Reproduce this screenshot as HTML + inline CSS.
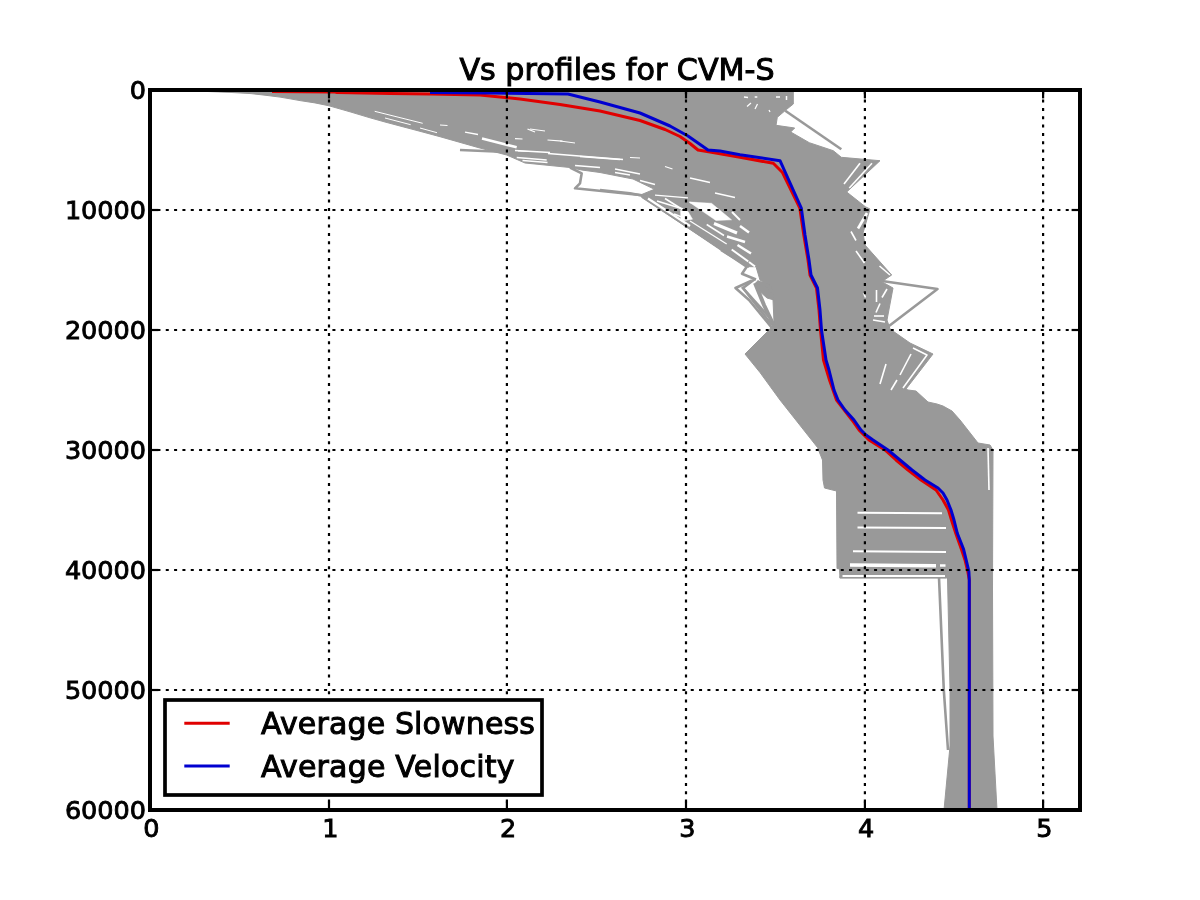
<!DOCTYPE html>
<html><head><meta charset="utf-8"><title>Vs profiles for CVM-S</title>
<style>html,body{margin:0;padding:0;background:#fff;overflow:hidden;}svg{display:block;will-change:transform;}</style>
</head><body>
<svg width="1200" height="900" viewBox="0 0 1200 900">
<rect x="0" y="0" width="1200" height="900" fill="#ffffff"/>
<defs><clipPath id="ax"><rect x="150" y="90" width="930" height="720"/></clipPath></defs>
<g clip-path="url(#ax)">
<polygon points="200.0,91.0 793.3,91.0 793.3,104.0 786.7,109.3 777.3,117.3 776.0,125.3 794.7,128.0 790.7,132.0 809.3,142.7 833.3,150.7 841.3,157.3 880.0,160.7 846.7,192.0 865.3,206.7 870.0,209.0 863.0,233.0 865.0,245.0 891.7,275.0 881.7,281.7 893.0,288.0 887.0,320.0 890.0,329.0 910.0,343.0 933.0,354.0 906.0,389.0 908.0,390.0 916.0,391.0 928.0,402.0 937.0,404.0 943.0,406.0 952.0,411.0 960.0,420.0 978.0,443.0 990.0,445.0 993.0,450.0 992.5,590.0 993.0,736.0 997.0,810.0 944.0,810.0 950.0,746.0 950.0,690.0 947.5,578.0 946.0,578.0 840.0,578.0 839.5,569.0 837.0,568.5 836.5,491.0 824.5,488.0 823.0,480.0 822.5,460.0 817.5,447.5 780.0,400.0 760.0,372.5 745.0,354.0 770.0,329.0 774.0,322.0 773.0,300.0 772.0,290.0 768.0,286.0 760.0,280.0 756.0,266.7 751.0,255.0 746.7,237.5 741.0,222.0 731.5,211.8 725.7,207.0 686.0,199.0 655.0,189.5 633.0,179.0 600.0,172.5 581.7,170.0 570.0,167.5 550.0,165.5 525.0,163.0 506.7,155.0 478.0,147.5 440.0,136.7 420.0,131.3 400.0,126.0 385.0,122.0 370.0,117.8 350.0,111.8 329.0,105.8 315.0,102.9 300.0,100.6 290.0,98.8 280.0,97.1 265.0,95.2 251.0,93.6 230.0,92.4 200.0,91.2" fill="#999999" stroke="#999999" stroke-width="1" stroke-linejoin="round"/>
<polygon points="641.7,194.5 655.0,189.0 686.0,199.0 725.7,207.0 731.5,211.8 741.0,222.0 746.7,237.5 751.0,255.0 756.0,266.7 746.7,266.7 641.7,197.5" fill="#999999" stroke="#999999" stroke-width="1" stroke-linejoin="round"/>
<polygon points="756.0,282.0 771.0,284.5 774.0,300.0 767.0,298.0 758.0,290.0" fill="#999999" stroke="#999999" stroke-width="1" stroke-linejoin="round"/>
<polyline points="755.0,283.0 764.0,305.0 773.5,325.0" fill="none" stroke="#999999" stroke-width="4.0" stroke-linejoin="round" stroke-linecap="butt" />
<polyline points="757.0,281.5 768.0,286.0 772.0,292.0" fill="none" stroke="#999999" stroke-width="3.5" stroke-linejoin="round" stroke-linecap="butt" />
<polyline points="742.0,287.0 768.5,316.4" fill="none" stroke="#999999" stroke-width="2.6" stroke-linejoin="round" stroke-linecap="butt" />
<polyline points="460.0,150.0 506.7,152.0" fill="none" stroke="#999999" stroke-width="2.4" stroke-linejoin="round" stroke-linecap="butt" />
<polyline points="785.3,110.7 841.3,149.3" fill="none" stroke="#999999" stroke-width="2.6" stroke-linejoin="round" stroke-linecap="butt" />
<polyline points="882.0,281.0 937.5,289.0 888.0,326.7" fill="none" stroke="#999999" stroke-width="2.6" stroke-linejoin="round" stroke-linecap="butt" />
<polyline points="570.0,167.5 581.7,173.3 580.0,183.3 575.0,188.3 640.0,195.0 653.0,196.7" fill="none" stroke="#999999" stroke-width="2.6" stroke-linejoin="round" stroke-linecap="butt" />
<polyline points="600.0,190.0 630.0,193.2 641.7,195.5 746.7,266.7 742.0,273.7 756.0,279.5" fill="none" stroke="#999999" stroke-width="2.6" stroke-linejoin="round" stroke-linecap="butt" />
<polyline points="752.0,280.5 735.5,288.0 749.0,300.0 772.0,328.0" fill="none" stroke="#999999" stroke-width="2.6" stroke-linejoin="round" stroke-linecap="butt" />
<polyline points="755.0,279.0 743.0,288.0 772.0,325.0" fill="none" stroke="#999999" stroke-width="2.6" stroke-linejoin="round" stroke-linecap="butt" />
<polyline points="721.0,250.0 749.0,267.0" fill="none" stroke="#999999" stroke-width="2.6" stroke-linejoin="round" stroke-linecap="butt" />
<polyline points="939.0,577.5 943.8,690.0 948.0,750.0" fill="none" stroke="#999999" stroke-width="2.6" stroke-linejoin="round" stroke-linecap="butt" />
<polyline points="839.5,577.0 946.0,577.0" fill="none" stroke="#999999" stroke-width="2.6" stroke-linejoin="round" stroke-linecap="butt" />
<polygon points="689.0,202.0 711.5,203.3 731.5,219.8 716.0,220.5" fill="#ffffff" stroke="#ffffff" stroke-width="0.5" stroke-linejoin="round"/>
<polygon points="680.5,210.5 688.0,211.5 692.5,219.2 681.0,221.0" fill="#ffffff" stroke="#ffffff" stroke-width="0.5" stroke-linejoin="round"/>
<polyline points="374.7,111.3 422.7,123.3" fill="none" stroke="#ffffff" stroke-width="1.0" stroke-linejoin="round" stroke-linecap="butt" />
<polyline points="385.0,118.0 410.7,124.7" fill="none" stroke="#ffffff" stroke-width="1.0" stroke-linejoin="round" stroke-linecap="butt" />
<polyline points="420.0,128.0 437.0,132.7" fill="none" stroke="#ffffff" stroke-width="1.0" stroke-linejoin="round" stroke-linecap="butt" />
<polyline points="440.0,125.0 447.5,125.5" fill="none" stroke="#ffffff" stroke-width="1.0" stroke-linejoin="round" stroke-linecap="butt" />
<polyline points="465.0,132.2 478.0,134.5" fill="none" stroke="#ffffff" stroke-width="1.3" stroke-linejoin="round" stroke-linecap="butt" />
<polyline points="482.0,138.5 516.7,147.3" fill="none" stroke="#ffffff" stroke-width="2.6" stroke-linejoin="round" stroke-linecap="butt" />
<polyline points="516.7,157.5 546.7,160.0" fill="none" stroke="#ffffff" stroke-width="1.5" stroke-linejoin="round" stroke-linecap="butt" />
<polyline points="518.0,151.0 530.0,151.5" fill="none" stroke="#ffffff" stroke-width="1.0" stroke-linejoin="round" stroke-linecap="butt" />
<polyline points="548.0,153.5 623.0,159.5" fill="none" stroke="#ffffff" stroke-width="1.3" stroke-linejoin="round" stroke-linecap="butt" />
<polyline points="575.0,165.5 600.0,167.5" fill="none" stroke="#ffffff" stroke-width="1.3" stroke-linejoin="round" stroke-linecap="butt" />
<polyline points="615.0,169.0 640.0,174.0" fill="none" stroke="#ffffff" stroke-width="1.3" stroke-linejoin="round" stroke-linecap="butt" />
<polyline points="530.0,129.0 545.0,131.0" fill="none" stroke="#ffffff" stroke-width="1.0" stroke-linejoin="round" stroke-linecap="butt" />
<polyline points="560.0,141.0 575.0,143.0" fill="none" stroke="#ffffff" stroke-width="1.0" stroke-linejoin="round" stroke-linecap="butt" />
<polyline points="515.0,138.7 522.5,139.0" fill="none" stroke="#ffffff" stroke-width="1.2" stroke-linejoin="round" stroke-linecap="butt" />
<polyline points="527.5,129.0 535.0,132.0" fill="none" stroke="#ffffff" stroke-width="1.2" stroke-linejoin="round" stroke-linecap="butt" />
<polyline points="547.5,140.0 562.5,141.2" fill="none" stroke="#ffffff" stroke-width="1.2" stroke-linejoin="round" stroke-linecap="butt" />
<polyline points="515.0,150.5 550.0,152.5" fill="none" stroke="#ffffff" stroke-width="1.4" stroke-linejoin="round" stroke-linecap="butt" />
<polyline points="580.0,156.5 620.0,159.5" fill="none" stroke="#ffffff" stroke-width="1.3" stroke-linejoin="round" stroke-linecap="butt" />
<polyline points="630.0,157.5 640.0,158.0" fill="none" stroke="#ffffff" stroke-width="1.2" stroke-linejoin="round" stroke-linecap="butt" />
<polyline points="522.5,160.5 547.5,162.5" fill="none" stroke="#ffffff" stroke-width="1.4" stroke-linejoin="round" stroke-linecap="butt" />
<polyline points="615.0,172.5 630.0,175.0" fill="none" stroke="#ffffff" stroke-width="1.3" stroke-linejoin="round" stroke-linecap="butt" />
<polyline points="640.0,180.5 655.0,184.5" fill="none" stroke="#ffffff" stroke-width="1.3" stroke-linejoin="round" stroke-linecap="butt" />
<polyline points="665.0,166.5 672.5,169.0" fill="none" stroke="#ffffff" stroke-width="1.2" stroke-linejoin="round" stroke-linecap="butt" />
<polyline points="690.0,178.0 710.0,182.5" fill="none" stroke="#ffffff" stroke-width="1.3" stroke-linejoin="round" stroke-linecap="butt" />
<polyline points="715.0,193.0 735.0,197.5" fill="none" stroke="#ffffff" stroke-width="1.3" stroke-linejoin="round" stroke-linecap="butt" />
<polyline points="655.0,195.2 688.0,197.8" fill="none" stroke="#ffffff" stroke-width="1.3" stroke-linejoin="round" stroke-linecap="butt" />
<polyline points="744.0,97.0 748.0,97.5" fill="none" stroke="#ffffff" stroke-width="1.5" stroke-linejoin="round" stroke-linecap="butt" />
<polyline points="754.7,97.0 757.3,97.0" fill="none" stroke="#ffffff" stroke-width="1.5" stroke-linejoin="round" stroke-linecap="butt" />
<polyline points="776.0,97.0 780.0,97.0" fill="none" stroke="#ffffff" stroke-width="1.5" stroke-linejoin="round" stroke-linecap="butt" />
<polyline points="786.5,96.0 786.5,100.0" fill="none" stroke="#ffffff" stroke-width="1.5" stroke-linejoin="round" stroke-linecap="butt" />
<polyline points="747.0,106.5 751.0,103.0" fill="none" stroke="#ffffff" stroke-width="1.2" stroke-linejoin="round" stroke-linecap="butt" />
<polyline points="755.0,109.0 757.5,104.0" fill="none" stroke="#ffffff" stroke-width="1.2" stroke-linejoin="round" stroke-linecap="butt" />
<polyline points="769.0,110.0 770.0,112.0" fill="none" stroke="#ffffff" stroke-width="1.2" stroke-linejoin="round" stroke-linecap="butt" />
<polyline points="657.0,201.0 683.0,209.0" fill="none" stroke="#ffffff" stroke-width="1.6" stroke-linejoin="round" stroke-linecap="butt" />
<polyline points="690.0,202.5 700.0,204.0" fill="none" stroke="#ffffff" stroke-width="1.6" stroke-linejoin="round" stroke-linecap="butt" />
<polyline points="674.0,214.0 687.0,219.0" fill="none" stroke="#ffffff" stroke-width="1.6" stroke-linejoin="round" stroke-linecap="butt" />
<polyline points="648.0,198.5 690.0,226.0" fill="none" stroke="#ffffff" stroke-width="2.2" stroke-linejoin="round" stroke-linecap="butt" />
<polyline points="665.0,198.5 688.0,213.0" fill="none" stroke="#ffffff" stroke-width="1.6" stroke-linejoin="round" stroke-linecap="butt" />
<polyline points="732.0,212.0 740.0,220.0" fill="none" stroke="#ffffff" stroke-width="2.0" stroke-linejoin="round" stroke-linecap="butt" />
<polyline points="714.0,223.5 737.0,233.0" fill="none" stroke="#ffffff" stroke-width="3.0" stroke-linejoin="round" stroke-linecap="butt" />
<polyline points="740.0,226.0 749.0,232.5" fill="none" stroke="#ffffff" stroke-width="2.5" stroke-linejoin="round" stroke-linecap="butt" />
<polyline points="727.0,236.5 745.0,242.0" fill="none" stroke="#ffffff" stroke-width="2.5" stroke-linejoin="round" stroke-linecap="butt" />
<polyline points="737.5,245.0 751.0,253.5" fill="none" stroke="#ffffff" stroke-width="2.5" stroke-linejoin="round" stroke-linecap="butt" />
<polyline points="731.7,249.5 748.3,261.5" fill="none" stroke="#ffffff" stroke-width="2.0" stroke-linejoin="round" stroke-linecap="butt" />
<polyline points="749.0,262.0 755.0,266.5" fill="none" stroke="#ffffff" stroke-width="2.0" stroke-linejoin="round" stroke-linecap="butt" />
<polyline points="690.0,221.0 726.7,244.0" fill="none" stroke="#ffffff" stroke-width="1.3" stroke-linejoin="round" stroke-linecap="butt" />
<polyline points="706.7,224.5 724.0,235.5" fill="none" stroke="#ffffff" stroke-width="1.5" stroke-linejoin="round" stroke-linecap="butt" />
<polyline points="872.0,163.3 849.3,188.0" fill="none" stroke="#ffffff" stroke-width="1.6" stroke-linejoin="round" stroke-linecap="butt" />
<polyline points="860.0,163.3 844.0,184.0" fill="none" stroke="#ffffff" stroke-width="1.6" stroke-linejoin="round" stroke-linecap="butt" />
<polyline points="913.0,348.0 927.0,355.0 903.0,388.0" fill="none" stroke="#ffffff" stroke-width="1.6" stroke-linejoin="round" stroke-linecap="butt" />
<polyline points="911.0,354.0 900.0,375.0" fill="none" stroke="#ffffff" stroke-width="1.6" stroke-linejoin="round" stroke-linecap="butt" />
<polyline points="886.0,364.0 880.0,384.0" fill="none" stroke="#ffffff" stroke-width="1.6" stroke-linejoin="round" stroke-linecap="butt" />
<polyline points="897.0,380.0 891.0,390.0" fill="none" stroke="#ffffff" stroke-width="1.6" stroke-linejoin="round" stroke-linecap="butt" />
<polyline points="867.0,213.0 858.0,228.5" fill="none" stroke="#ffffff" stroke-width="2.6" stroke-linejoin="round" stroke-linecap="butt" />
<polyline points="851.0,231.5 856.0,240.5" fill="none" stroke="#ffffff" stroke-width="1.6" stroke-linejoin="round" stroke-linecap="butt" />
<polyline points="856.0,251.0 864.5,263.0" fill="none" stroke="#ffffff" stroke-width="1.6" stroke-linejoin="round" stroke-linecap="butt" />
<polyline points="879.5,266.0 890.0,275.0" fill="none" stroke="#ffffff" stroke-width="1.6" stroke-linejoin="round" stroke-linecap="butt" />
<polyline points="863.5,293.0 865.5,297.5" fill="none" stroke="#ffffff" stroke-width="1.6" stroke-linejoin="round" stroke-linecap="butt" />
<polyline points="876.5,290.0 876.5,302.0" fill="none" stroke="#ffffff" stroke-width="1.6" stroke-linejoin="round" stroke-linecap="butt" />
<polyline points="887.0,289.0 882.0,297.5" fill="none" stroke="#ffffff" stroke-width="1.6" stroke-linejoin="round" stroke-linecap="butt" />
<polyline points="880.0,303.5 876.0,312.5" fill="none" stroke="#ffffff" stroke-width="1.6" stroke-linejoin="round" stroke-linecap="butt" />
<polyline points="874.0,316.0 884.0,316.0" fill="none" stroke="#ffffff" stroke-width="1.6" stroke-linejoin="round" stroke-linecap="butt" />
<polyline points="873.0,320.0 885.0,322.0" fill="none" stroke="#ffffff" stroke-width="1.6" stroke-linejoin="round" stroke-linecap="butt" />
<polyline points="857.5,512.8 942.0,513.2" fill="none" stroke="#ffffff" stroke-width="2.0" stroke-linejoin="round" stroke-linecap="butt" />
<polyline points="857.5,527.4 946.0,528.0" fill="none" stroke="#ffffff" stroke-width="2.0" stroke-linejoin="round" stroke-linecap="butt" />
<polyline points="853.0,551.2 946.0,552.0" fill="none" stroke="#ffffff" stroke-width="2.0" stroke-linejoin="round" stroke-linecap="butt" />
<polyline points="850.0,565.0 936.0,565.7" fill="none" stroke="#ffffff" stroke-width="3.5" stroke-linejoin="round" stroke-linecap="butt" />
<polyline points="940.0,565.5 945.5,565.5" fill="none" stroke="#ffffff" stroke-width="2.5" stroke-linejoin="round" stroke-linecap="butt" />
<polyline points="842.5,576.0 945.0,576.0" fill="none" stroke="#ffffff" stroke-width="2.0" stroke-linejoin="round" stroke-linecap="butt" />
<polyline points="988.0,448.0 989.0,490.0" fill="none" stroke="#ffffff" stroke-width="1.6" stroke-linejoin="round" stroke-linecap="butt" />
<polyline points="272.0,91.6 334.0,91.9 337.0,92.6 390.0,93.4 430.0,94.0 480.0,95.0 520.0,99.0 560.0,104.5 600.0,111.0 640.0,120.5 665.0,129.5 680.0,136.5 690.0,143.5 698.0,150.0 710.0,152.0 740.0,157.3 773.3,163.3 782.5,172.5 799.8,208.0 803.8,235.0 808.0,260.0 810.0,275.0 816.5,288.0 819.0,310.0 820.5,330.0 823.5,360.0 829.5,380.0 836.5,400.0 852.0,420.0 859.0,430.0 869.0,440.0 885.0,450.0 896.0,460.0 908.0,470.0 921.0,480.0 936.0,490.0 943.0,500.0 948.5,510.0 951.5,520.0 956.0,534.0 961.5,549.5 965.0,560.0 967.8,571.6 969.3,580.0 969.3,810.0" fill="none" stroke="#e00000" stroke-width="3.0" stroke-linejoin="round" stroke-linecap="butt" />
<polyline points="430.0,92.4 490.0,93.0 568.0,94.0 600.0,102.0 640.0,113.0 670.0,126.0 688.0,136.0 698.0,143.0 708.0,150.0 720.0,151.0 740.0,154.7 780.0,160.7 801.3,208.0 805.0,235.0 809.0,260.0 811.0,275.0 817.5,288.0 820.0,310.0 821.5,330.0 826.0,360.0 829.0,370.0 831.5,380.0 834.0,390.0 838.0,400.0 845.0,410.0 854.0,420.0 861.0,430.0 866.0,435.0 873.0,440.0 888.0,450.0 900.0,460.0 912.0,470.0 925.0,480.0 938.0,488.0 943.0,493.0 947.0,500.0 951.0,510.0 954.0,520.0 957.3,533.3 963.6,549.3 966.2,560.0 968.9,571.6 969.3,580.0 969.3,810.0" fill="none" stroke="#0000d0" stroke-width="3.0" stroke-linejoin="round" stroke-linecap="butt" />
</g>
<line x1="329.00" y1="810" x2="329.00" y2="90" stroke="#000" stroke-width="2.2" stroke-dasharray="3 5.333" stroke-dashoffset="0.9"/>
<line x1="506.90" y1="810" x2="506.90" y2="90" stroke="#000" stroke-width="2.2" stroke-dasharray="3 5.333" stroke-dashoffset="0.9"/>
<line x1="686.00" y1="810" x2="686.00" y2="90" stroke="#000" stroke-width="2.2" stroke-dasharray="3 5.333" stroke-dashoffset="0.9"/>
<line x1="864.90" y1="810" x2="864.90" y2="90" stroke="#000" stroke-width="2.2" stroke-dasharray="3 5.333" stroke-dashoffset="0.9"/>
<line x1="1043.10" y1="810" x2="1043.10" y2="90" stroke="#000" stroke-width="2.2" stroke-dasharray="3 5.333" stroke-dashoffset="0.9"/>
<line x1="150" y1="210.00" x2="1080" y2="210.00" stroke="#000" stroke-width="2.2" stroke-dasharray="3 5.333" stroke-dashoffset="0.9"/>
<line x1="150" y1="330.00" x2="1080" y2="330.00" stroke="#000" stroke-width="2.2" stroke-dasharray="3 5.333" stroke-dashoffset="0.9"/>
<line x1="150" y1="450.00" x2="1080" y2="450.00" stroke="#000" stroke-width="2.2" stroke-dasharray="3 5.333" stroke-dashoffset="0.9"/>
<line x1="150" y1="570.00" x2="1080" y2="570.00" stroke="#000" stroke-width="2.2" stroke-dasharray="3 5.333" stroke-dashoffset="0.9"/>
<line x1="150" y1="690.00" x2="1080" y2="690.00" stroke="#000" stroke-width="2.2" stroke-dasharray="3 5.333" stroke-dashoffset="0.9"/>
<line x1="150.00" y1="810" x2="150.00" y2="801.6" stroke="#000" stroke-width="2.2"/>
<line x1="150.00" y1="90" x2="150.00" y2="98.4" stroke="#000" stroke-width="2.2"/>
<line x1="329.00" y1="810" x2="329.00" y2="801.6" stroke="#000" stroke-width="2.2"/>
<line x1="329.00" y1="90" x2="329.00" y2="98.4" stroke="#000" stroke-width="2.2"/>
<line x1="506.90" y1="810" x2="506.90" y2="801.6" stroke="#000" stroke-width="2.2"/>
<line x1="506.90" y1="90" x2="506.90" y2="98.4" stroke="#000" stroke-width="2.2"/>
<line x1="686.00" y1="810" x2="686.00" y2="801.6" stroke="#000" stroke-width="2.2"/>
<line x1="686.00" y1="90" x2="686.00" y2="98.4" stroke="#000" stroke-width="2.2"/>
<line x1="864.90" y1="810" x2="864.90" y2="801.6" stroke="#000" stroke-width="2.2"/>
<line x1="864.90" y1="90" x2="864.90" y2="98.4" stroke="#000" stroke-width="2.2"/>
<line x1="1043.10" y1="810" x2="1043.10" y2="801.6" stroke="#000" stroke-width="2.2"/>
<line x1="1043.10" y1="90" x2="1043.10" y2="98.4" stroke="#000" stroke-width="2.2"/>
<line x1="150" y1="90.00" x2="158.4" y2="90.00" stroke="#000" stroke-width="2.2"/>
<line x1="1080" y1="90.00" x2="1071.6" y2="90.00" stroke="#000" stroke-width="2.2"/>
<line x1="150" y1="210.00" x2="158.4" y2="210.00" stroke="#000" stroke-width="2.2"/>
<line x1="1080" y1="210.00" x2="1071.6" y2="210.00" stroke="#000" stroke-width="2.2"/>
<line x1="150" y1="330.00" x2="158.4" y2="330.00" stroke="#000" stroke-width="2.2"/>
<line x1="1080" y1="330.00" x2="1071.6" y2="330.00" stroke="#000" stroke-width="2.2"/>
<line x1="150" y1="450.00" x2="158.4" y2="450.00" stroke="#000" stroke-width="2.2"/>
<line x1="1080" y1="450.00" x2="1071.6" y2="450.00" stroke="#000" stroke-width="2.2"/>
<line x1="150" y1="570.00" x2="158.4" y2="570.00" stroke="#000" stroke-width="2.2"/>
<line x1="1080" y1="570.00" x2="1071.6" y2="570.00" stroke="#000" stroke-width="2.2"/>
<line x1="150" y1="690.00" x2="158.4" y2="690.00" stroke="#000" stroke-width="2.2"/>
<line x1="1080" y1="690.00" x2="1071.6" y2="690.00" stroke="#000" stroke-width="2.2"/>
<line x1="150" y1="810.00" x2="158.4" y2="810.00" stroke="#000" stroke-width="2.2"/>
<line x1="1080" y1="810.00" x2="1071.6" y2="810.00" stroke="#000" stroke-width="2.2"/>
<rect x="150" y="90" width="930" height="720" fill="none" stroke="#000" stroke-width="4"/>
<g font-family="'DejaVu Sans', 'Liberation Sans', sans-serif" font-size="25.5" fill="#000" stroke="#000" stroke-width="0.9">
<text x="146" y="99.10" text-anchor="end">0</text>
<text x="146" y="219.10" text-anchor="end">10000</text>
<text x="146" y="339.10" text-anchor="end">20000</text>
<text x="146" y="459.10" text-anchor="end">30000</text>
<text x="146" y="579.10" text-anchor="end">40000</text>
<text x="146" y="699.10" text-anchor="end">50000</text>
<text x="146" y="819.10" text-anchor="end">60000</text>
<text x="151.30" y="836.5" text-anchor="middle">0</text>
<text x="330.30" y="836.5" text-anchor="middle">1</text>
<text x="508.20" y="836.5" text-anchor="middle">2</text>
<text x="687.30" y="836.5" text-anchor="middle">3</text>
<text x="866.20" y="836.5" text-anchor="middle">4</text>
<text x="1044.40" y="836.5" text-anchor="middle">5</text>
</g>
<text x="617" y="79.6" text-anchor="middle" font-family="'DejaVu Sans', 'Liberation Sans', sans-serif" font-size="30.15" fill="#000" stroke="#000" stroke-width="1.0">Vs profiles for CVM-S</text>
<rect x="165" y="700" width="377" height="95" fill="#fff" stroke="#000" stroke-width="3.7"/>
<line x1="184.3" y1="723.3" x2="229.7" y2="723.3" stroke="#e00000" stroke-width="3"/>
<line x1="184.3" y1="766" x2="229.7" y2="766" stroke="#0000d0" stroke-width="3"/>
<text x="261" y="734.3" font-family="'DejaVu Sans', 'Liberation Sans', sans-serif" font-size="30" letter-spacing="0.15" fill="#000" stroke="#000" stroke-width="1.0">Average Slowness</text>
<text x="261" y="777.4" font-family="'DejaVu Sans', 'Liberation Sans', sans-serif" font-size="30" letter-spacing="0.2" fill="#000" stroke="#000" stroke-width="1.0">Average Velocity</text>
</svg>
</body></html>
